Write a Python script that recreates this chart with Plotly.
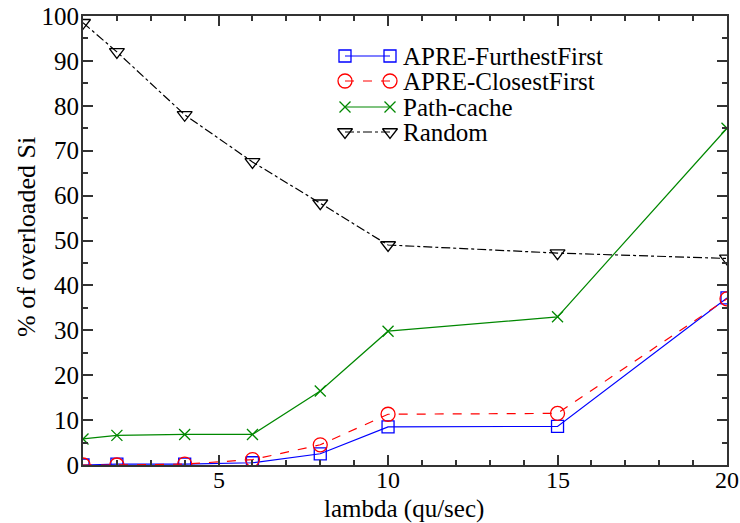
import plotly.graph_objects as go

lam = [1, 2, 4, 6, 8, 10, 15, 20]
furthest = [0.0, 0.2, 0.2, 0.5, 2.5, 8.5, 8.6, 37.2]
closest = [0.0, 0.0, 0.2, 1.2, 4.5, 11.3, 11.5, 37.0]
pathcache = [5.8, 6.6, 6.8, 6.8, 16.5, 29.8, 33.0, 75.0]
random_ = [98.5, 92.0, 78.0, 67.5, 58.3, 49.0, 47.2, 46.0]

names = ["APRE-FurthestFirst", "APRE-ClosestFirst", "Path-cache", "Random"]
series = [furthest, closest, pathcache, random_]
colors = ["#0000ff", "#ff0000", "#008800", "#000000"]
dashes = ["solid", "dash", "solid", "dashdot"]
symbols = ["square-open", "circle-open", "x-thin-open", "triangle-down-open"]
msizes = [12, 14, 11, 13]

x_ticks = [5, 10, 15, 20]
x_title = "lambda (qu/sec)"
y_title = "% of overloaded Si"

FONT = "Liberation Serif, Times New Roman, Times, serif"

fig = go.Figure()
for nm, ys, c, d, s, ms in zip(names, series, colors, dashes, symbols, msizes):
    fig.add_trace(go.Scatter(x=lam, y=ys, name=nm, mode="lines+markers", showlegend=False,
                             line=dict(color=c, width=1.2, dash=d),
                             marker=dict(symbol=s, size=ms, color=c, line=dict(width=1.3, color=c))))

# custom legend (pixel-like coordinates inside the plot area)
leg_rows = [40, 65, 91, 116]
leg_x = [262, 307]
for nm, c, d, s, ms, ry in zip(names, colors, dashes, symbols, msizes, leg_rows):
    fig.add_trace(go.Scatter(x=leg_x, y=[ry, ry], mode="lines+markers", showlegend=False,
                             xaxis="x2", yaxis="y2", hoverinfo="skip",
                             line=dict(color=c, width=1.2, dash=d),
                             marker=dict(symbol=s, size=ms, color=c, line=dict(width=1.3, color=c))))
    fig.add_annotation(x=318, y=ry, xref="x2", yref="y2", text=nm, showarrow=False,
                       xanchor="left", yanchor="middle",
                       font=dict(family=FONT, size=25, color="black"))

# x tick labels placed just below the axis
for v in x_ticks:
    fig.add_annotation(x=v, y=-0.0334, xref="x", yref="paper", text=str(v), showarrow=False,
                       xanchor="center", yanchor="middle",
                       font=dict(family=FONT, size=24, color="black"))

# axis titles
fig.add_annotation(x=0.498, y=-0.0969, xref="paper", yref="paper", text=x_title, showarrow=False,
                   xanchor="center", yanchor="middle", font=dict(family=FONT, size=25, color="black"))
fig.add_annotation(x=-0.087, y=0.508, xref="paper", yref="paper", text=y_title, showarrow=False,
                   textangle=-90, xanchor="center", yanchor="middle",
                   font=dict(family=FONT, size=26, color="black"))

axis_common = dict(showline=True, linecolor="#333333", linewidth=2, mirror="allticks",
                   ticks="inside", tickcolor="#333333", tickwidth=2, ticklen=10,
                   showgrid=False, zeroline=False, automargin=False)

fig.update_xaxes(range=[1, 20], tickvals=x_ticks, showticklabels=False,
                 minor=dict(dtick=1, tick0=0, ticks="inside", ticklen=5, tickcolor="#333333", tickwidth=2),
                 **axis_common)
fig.update_yaxes(range=[0, 100], dtick=10, ticklabelstandoff=-3,
                 tickfont=dict(family=FONT, size=25, color="black"),
                 minor=dict(dtick=5, ticks="inside", ticklen=5, tickcolor="#333333", tickwidth=2),
                 **axis_common)

fig.update_layout(
    width=740, height=523,
    margin=dict(l=83, r=13, t=16, b=58),
    paper_bgcolor="white", plot_bgcolor="white",
    font=dict(family=FONT, color="black"),
    showlegend=False,
    xaxis2=dict(overlaying="x", range=[0, 644], visible=False, fixedrange=True),
    yaxis2=dict(overlaying="y", range=[449, 0], visible=False, fixedrange=True),
)

fig.write_html("out.html")
